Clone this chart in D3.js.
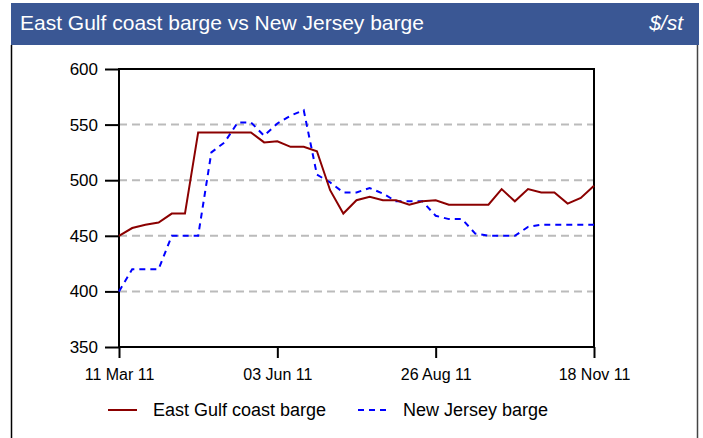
<!DOCTYPE html>
<html>
<head>
<meta charset="utf-8">
<script src="https://cdn.jsdelivr.net/npm/d3@7"></script>
<style>
body { margin: 0; background: white; }
svg { font-family: "Liberation Sans", Arial, sans-serif; }
.grid line { stroke: #bbbbbb; stroke-width: 2; stroke-dasharray: 8,5; }
</style>
</head>
<body>
<div id="container"></div>
<script>
// weekly prices, 11 Mar 11 .. 18 Nov 11
var startDate = "2011-03-11";
var eastGulf = [450, 457, 460, 462, 470, 470, 543, 543, 543, 543, 543, 534, 535, 530, 530, 526,
    491, 470, 482, 485, 482, 482, 478, 481, 482, 478, 478, 478, 478, 492, 481, 492, 489, 489, 479, 484, 495];
var newJersey = [400, 420, 420, 420, 450, 450, 450, 525, 534, 552, 552, 540, 551, 558, 563, 505,
    498, 489, 489, 493, 488, 481, 481, 481, 468, 465, 465, 452, 450, 450, 450, 458, 460, 460, 460, 460, 460];
var yTicks = [350, 400, 450, 500, 550, 600];
var xTickDates = ["2011-03-11", "2011-06-03", "2011-08-26", "2011-11-18"];
var seriesNames = ["East Gulf coast barge", "New Jersey barge"];
var seriesColors = ["#8b0000", "#0000ff"];

var width = 703, height = 438;
var margin = {left: 119, right: 109, top: 69, bottom: 91};

var parse = d3.timeParse("%Y-%m-%d");
var t0 = parse(startDate);
var dates = eastGulf.map(function(d, i) { return d3.timeDay.offset(t0, i * 7); });

var svg = d3.select("#container").append("svg")
    .attr("width", width)
    .attr("height", height);

// title bar
svg.append("rect").attr("x", 11).attr("y", 3).attr("width", 688).attr("height", 42).attr("fill", "#3a5794");
svg.append("text").attr("x", 20).attr("y", 30).attr("fill", "white").attr("font-size", 21)
    .text("East Gulf coast barge vs New Jersey barge");
svg.append("text").attr("x", 683).attr("y", 30).attr("fill", "white").attr("font-size", 21)
    .attr("font-style", "italic").attr("text-anchor", "end").text("$/st");

// outer borders
svg.append("line").attr("x1", 11.5).attr("x2", 11.5).attr("y1", 45).attr("y2", height).attr("stroke", "black").attr("stroke-width", 1.5);
svg.append("line").attr("x1", 697.5).attr("x2", 697.5).attr("y1", 45).attr("y2", height).attr("stroke", "#444").attr("stroke-width", 1.5);

var x = d3.scaleTime()
    .domain([parse(xTickDates[0]), parse(xTickDates[xTickDates.length - 1])])
    .range([margin.left, width - margin.right]);
var y = d3.scaleLinear()
    .domain([350, 600])
    .range([height - margin.bottom, margin.top]);

// grid
svg.append("g").attr("class", "grid")
    .selectAll("line")
    .data(yTicks.filter(function(v) { return v > 350 && v < 600; }))
    .enter().append("line")
    .attr("x1", margin.left).attr("x2", width - margin.right)
    .attr("y1", function(d) { return y(d); })
    .attr("y2", function(d) { return y(d); });

// frame
svg.append("rect")
    .attr("x", margin.left).attr("y", margin.top)
    .attr("width", width - margin.left - margin.right)
    .attr("height", height - margin.top - margin.bottom)
    .attr("fill", "none").attr("stroke", "black").attr("stroke-width", 2);

var yAxis = svg.append("g")
    .attr("transform", "translate(" + margin.left + ",0)")
    .call(d3.axisLeft(y).tickValues(yTicks).tickSize(14).tickPadding(7));
yAxis.select(".domain").remove();
yAxis.selectAll("line").attr("stroke", "black").attr("stroke-width", 2);
yAxis.selectAll("text").attr("font-size", 17).attr("fill", "black")
    .attr("font-family", "Liberation Sans, Arial, sans-serif");

var xAxis = svg.append("g")
    .attr("transform", "translate(0," + (height - margin.bottom) + ")")
    .call(d3.axisBottom(x).tickValues(xTickDates.map(parse)).tickFormat(d3.timeFormat("%d %b %y")).tickSize(11).tickPadding(11));
xAxis.select(".domain").remove();
xAxis.selectAll("line").attr("stroke", "black").attr("stroke-width", 2);
xAxis.selectAll("text").attr("font-size", 16).attr("fill", "black")
    .attr("font-family", "Liberation Sans, Arial, sans-serif");

var line = d3.line()
    .x(function(d, i) { return x(dates[i]); })
    .y(function(d) { return y(d); });

svg.append("path").datum(newJersey)
    .attr("fill", "none").attr("stroke", seriesColors[1]).attr("stroke-width", 2)
    .attr("stroke-dasharray", "6,5")
    .attr("d", line);
svg.append("path").datum(eastGulf)
    .attr("fill", "none").attr("stroke", seriesColors[0]).attr("stroke-width", 2)
    .attr("d", line);

// legend
var legendX = [108, 358];
seriesNames.forEach(function(name, i) {
    var g = svg.append("g").attr("transform", "translate(" + legendX[i] + ",410)");
    g.append("line").attr("x1", 0).attr("x2", 29).attr("y1", 0).attr("y2", 0)
        .attr("stroke", seriesColors[i]).attr("stroke-width", 2)
        .attr("stroke-dasharray", i == 1 ? "6,5" : null);
    g.append("text").attr("x", 45).attr("y", 6).attr("font-size", 18).attr("fill", "black").text(name);
});
</script>
</body>
</html>
